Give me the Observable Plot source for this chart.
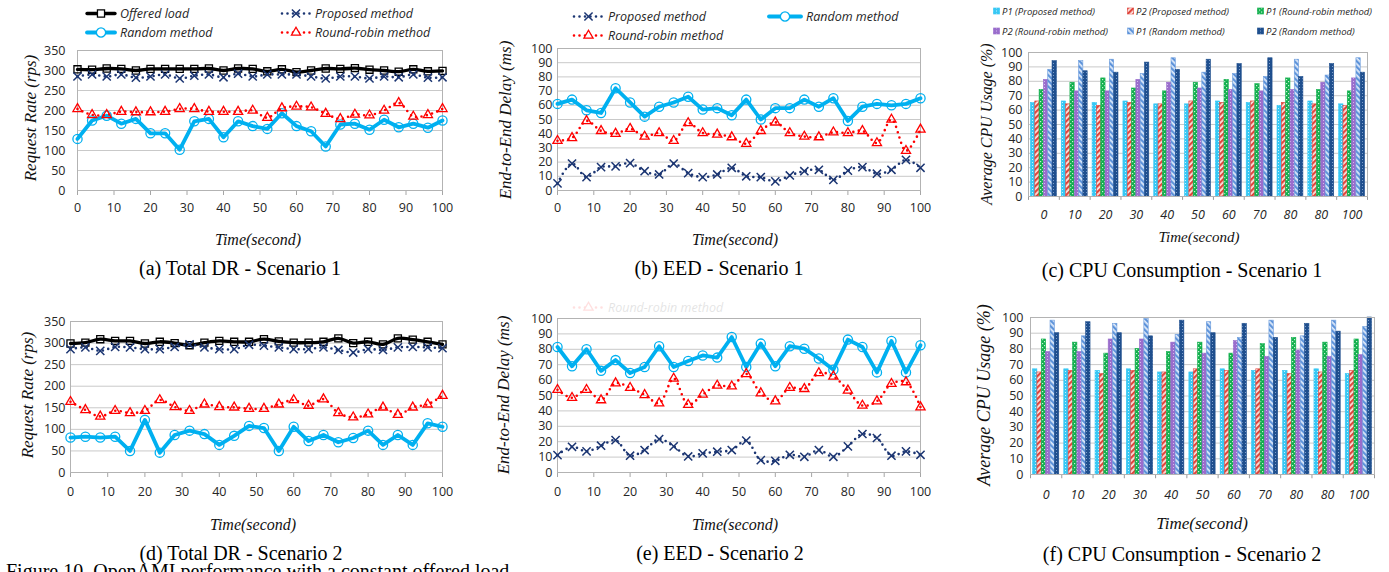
<!DOCTYPE html>
<html><head><meta charset="utf-8">
<script src="https://cdn.jsdelivr.net/npm/d3@7"></script>
<script src="https://cdn.jsdelivr.net/npm/@observablehq/plot@0.6"></script>
<style>
html,body{margin:0;padding:0;background:#fff;}
#root{position:relative;width:1389px;height:572px;overflow:hidden;background:#fff;}
.t{position:absolute;white-space:nowrap;line-height:1;}
.chartx text{fill:#262626;}
.cpu text{fill:#262626;font-style:italic;}
.cpu [aria-label^="y-axis"] text{font-style:normal;}
.leg{position:absolute;display:flex;align-items:center;white-space:nowrap;transform:translateY(-50%);font-family:"Open Sans";font-style:italic;color:#262626;}
</style></head><body><div id="root"></div>
<script>
// ---------- data ----------
const times = [0,4,8,12,16,20,24,28,32,36,40,44,48,52,56,60,64,68,72,76,80,84,88,92,96,100];
const xTicks = [0,10,20,30,40,50,60,70,80,90,100];
const rateTicks = [0,50,100,150,200,250,300,350];
const pctTicks = [0,10,20,30,40,50,60,70,80,90,100];
const cpuLabels = ["0","10","20","30","40","50","60","70","80","80","100"];

// (a) Total DR - Scenario 1
const a_offered = [303,302,305,304,300,304,304,304,304,305,300,305,304,298,303,296,300,305,304,306,302,300,297,303,298,299];
const a_proposed = [285,290,285,290,282,285,290,280,287,290,283,292,285,290,290,290,285,280,285,285,280,285,283,290,282,283];
const a_random = [129,175,187,167,179,143,143,102,173,179,133,173,161,154,193,161,148,110,165,167,152,177,158,167,157,175];
const a_roundrobin = [204,189,189,197,196,196,197,204,204,197,197,197,200,182,206,210,208,192,179,190,188,200,219,185,189,204];

// (b) EED - Scenario 1
const b_proposed = [5,19,9.4,16.5,17,19.3,13.6,11.3,19,12.2,9.4,11.3,16,10,9.4,6.4,10.6,13.6,14.6,7.5,14,16.5,11.8,14.6,21.6,16];
const b_random = [61,64,56.5,54.6,72,62,52,59,62,66,57,58,53,64,50,58,58,64,59,65,49,59,61,60,61,65];
const b_roundrobin = [35,37,49,42,40,43.5,38,40.5,35,47.5,40.5,39.5,37.6,33,42,48,40.5,38,37.6,41,40.5,42,33.4,50,28,43];

// (d) Total DR - Scenario 2
const d_offered = [299,301,309,305,305,299,303,300,295,301,305,303,303,309,304,301,301,303,311,300,303,297,311,308,303,297];
const d_proposed = [286,290,282,291,290,286,286,291,297,290,286,286,296,294,290,286,286,290,284,278,286,284,290,291,290,288];
const d_random = [81,83,81,83,50,122,46,87,97,89,64,85,108,103,50,106,73,87,70,80,97,64,87,64,114,106];
const d_roundrobin = [164,145,130,143,138,143,168,152,143,158,152,151,148,148,158,168,155,170,138,128,135,151,134,151,158,178];

// (e) EED - Scenario 2
const e_proposed = [11.3,16.7,13.7,17.4,21,10.9,14.6,21.7,17,10.4,12.4,13.5,14.6,20.7,8,7.6,11.5,10.2,14.6,10.2,17,25,22.4,10.9,13.7,11.5];
const e_random = [81.5,69,80,66,73,64.6,68.5,82,68.5,72.4,76,74.6,88,68.5,83.7,69,82,80.4,74,66.7,86.3,81.5,65,85.4,65,82.6];
const e_roundrobin = [53.7,48.5,53.7,47,58,55,50.4,45,61,44,50.6,56.5,56,64,51.5,46.3,55,54.3,64.6,62.4,53.3,43.5,46.3,57.6,58.7,42.4];

// (c) CPU Consumption - Scenario 1
const c_p1_proposed = [65,66,65,66,64,64,66,65,63,66,64];
const c_p2_proposed = [66,64,63,65,64,66,65,66,65,64,63];
const c_p1_roundrobin = [74,79,82,75,73,79,81,78,82,74,73];
const c_p2_roundrobin = [81,73,73,81,79,75,74,73,74,79,82];
const c_p1_random = [88,94,95,85,96,86,85,83,95,84,96];
const c_p2_random = [94,87,86,93,88,95,92,96,83,92,86];

// (f) CPU Consumption - Scenario 2
const f_p1_proposed = [67,67,66,67,65,65,67,66,66,67,64];
const f_p2_proposed = [65,66,64,66,65,67,66,67,64,65,66];
const f_p1_roundrobin = [86,84,77,80,78,84,77,83,87,84,86];
const f_p2_roundrobin = [78,78,86,86,84,77,85,75,79,75,76];
const f_p1_random = [98,88,96,99,89,97,87,98,88,98,94];
const f_p2_random = [90,97,90,88,98,90,96,87,96,91,100];

// ---------- styles ----------
const S = {
  offered: {name:"Offered load", color:"#000000", sw:3.3, dash:null, curve:"catmull-rom", symbol:"square", r:4},
  proposed: {name:"Proposed method", color:"#1b3572", sw:2.6, dash:"0 5.5", curve:"catmull-rom", symbol:"times", r:3.8},
  random: {name:"Random method", color:"#00b0f0", sw:3.8, dash:null, curve:"linear", symbol:"circle", r:4.6},
  roundrobin: {name:"Round-robin method", color:"#ff0000", sw:2.6, dash:"0 5.5", curve:"catmull-rom", symbol:"triangle", r:3.4}
};
const barSeries = [
  {name:"P1 (Proposed method)", pat:"pP1P", base:"#33c6f4"},
  {name:"P2 (Proposed method)", pat:"pP2P", base:"#e0453c"},
  {name:"P1 (Round-robin method)", pat:"pP1RR", base:"#10b04c"},
  {name:"P2 (Round-robin method)", pat:"pP2RR", base:"#9a6dcc"},
  {name:"P1 (Random method)", pat:"pP1R", base:"#6a9bdc"},
  {name:"P2 (Random method)", pat:"pP2R", base:"#1f4f8e"}
];

const root = document.getElementById("root");

// pattern defs
root.insertAdjacentHTML("beforeend", `<svg width="0" height="0" style="position:absolute"><defs>
<pattern id="pP1P" width="3" height="3" patternUnits="userSpaceOnUse"><rect width="3" height="3" fill="#38c8f4"/><rect width="1" height="1" fill="#c4f0fd"/></pattern>
<pattern id="pP2P" width="4" height="4" patternUnits="userSpaceOnUse" patternTransform="rotate(45)"><rect width="4" height="4" fill="#fde6e3"/><rect width="2.2" height="4" fill="#e0453c"/></pattern>
<pattern id="pP1RR" width="4" height="4" patternUnits="userSpaceOnUse"><rect width="4" height="4" fill="#12b04e"/><rect width="1.2" height="1.2" fill="#c9f0d5"/><rect x="2" y="2" width="1.2" height="1.2" fill="#c9f0d5"/></pattern>
<pattern id="pP2RR" width="3" height="3" patternUnits="userSpaceOnUse"><rect width="3" height="3" fill="#9a6dcc"/><rect width="1" height="1" fill="#d2bcec"/></pattern>
<pattern id="pP1R" width="4" height="4" patternUnits="userSpaceOnUse" patternTransform="rotate(-45)"><rect width="4" height="4" fill="#dde9f9"/><rect width="2.2" height="4" fill="#5d93da"/></pattern>
<pattern id="pP2R" width="3" height="3" patternUnits="userSpaceOnUse"><rect width="3" height="3" fill="#1f4f8e"/><rect width="1" height="1" fill="#7f9fcb"/></pattern>
</defs></svg>`);

function addText(str, cx, cy, css, rotate) {
  const d = document.createElement("div");
  d.className = "t";
  d.textContent = str;
  Object.assign(d.style, css);
  d.style.left = cx + "px";
  d.style.top = cy + "px";
  d.style.transform = "translate(-50%,-50%)" + (rotate ? " rotate(-90deg)" : "");
  root.appendChild(d);
}
function placeSvg(svg, left, top) {
  const d = document.createElement("div");
  d.style.position = "absolute";
  d.style.left = left + "px";
  d.style.top = top + "px";
  svg.style.overflow = "visible";
  d.appendChild(svg);
  root.appendChild(d);
}

function symbolPath(sym, r) {
  const map = {square:d3.symbolSquare, times:d3.symbolTimes, circle:d3.symbolCircle, triangle:d3.symbolTriangle};
  return d3.symbol(map[sym], Math.PI * r * r)();
}
function legendLine(s, x, yc, w, fontSize) {
  const d = document.createElement("div");
  d.className = "leg";
  d.style.left = x + "px";
  d.style.top = yc + "px";
  d.style.fontSize = fontSize + "px";
  const svg = d3.create("svg").attr("width", w).attr("height", 14).style("overflow", "visible").style("margin-right", "3px");
  svg.append("line").attr("x1", 2).attr("x2", w - 2).attr("y1", 7).attr("y2", 7)
    .attr("stroke", s.color).attr("stroke-width", s.sw).attr("stroke-linecap", "round")
    .attr("stroke-dasharray", s.dash);
  svg.append("path").attr("d", symbolPath(s.symbol, s.r)).attr("transform", `translate(${w/2},7)`)
    .attr("fill", s.symbol === "times" ? "none" : "#fff").attr("stroke", s.color).attr("stroke-width", s.symbol === "times" ? 1.5 : 1.3);
  d.appendChild(svg.node());
  d.appendChild(document.createTextNode(s.name));
  root.appendChild(d);
  return d;
}
function legendBox(b, x, yc) {
  const d = document.createElement("div");
  d.className = "leg";
  d.style.left = x + "px";
  d.style.top = yc + "px";
  d.style.fontSize = "9.5px";
  d.innerHTML = `<svg width="7" height="7" style="margin-right:2px"><rect x="0.3" y="0.3" width="6.4" height="6.4" fill="url(#${b.pat})" stroke="${b.base}" stroke-width="0.6"/></svg>`;
  d.appendChild(document.createTextNode(b.name));
  root.appendChild(d);
}

function linePanel(o) {
  const marks = [
    Plot.ruleY(o.yTicks, {stroke:"#c9c9c9", strokeWidth:1}),
    Plot.frame({stroke:"#b3b3b3"})
  ];
  for (const [s, values] of o.series) {
    const data = times.map((t, i) => ({t, v: values[i]}));
    marks.push(Plot.line(data, {x:"t", y:"v", stroke:s.color, strokeWidth:s.sw, strokeDasharray:s.dash, strokeLinecap:"round", curve:s.curve}));
    marks.push(Plot.dot(data, {x:"t", y:"v", symbol:s.symbol, r:s.r, stroke:s.color, strokeWidth:s.symbol === "times" ? 1.5 : 1.3, fill:"none"}));
  }
  const svg = Plot.plot({
    className: "chartx",
    width: o.width, height: o.height,
    marginLeft: o.mL, marginRight: o.mR, marginTop: o.mT, marginBottom: o.mB,
    style: {fontFamily:"Open Sans", fontSize:"12.5px", color:"#a6a6a6", background:"transparent", overflow:"visible"},
    x: {domain:[0,100], ticks:xTicks, tickSize:5, tickPadding:o.xPad, label:null},
    y: {domain:o.yDomain, ticks:o.yTicks, tickSize:0, tickPadding:o.yPad, label:null},
    marks
  });
  placeSvg(svg, o.left, o.top);
}

function barPanel(o) {
  const boundaries = cpuLabels.map((_, i) => i - 0.5).concat([cpuLabels.length - 0.5]);
  const marks = [
    Plot.ruleY(pctTicks, {stroke:"#c9c9c9", strokeWidth:1}),
    Plot.ruleX(boundaries, {y1:0, y2:-2.7, stroke:"#9a9a9a"})
  ];
  o.series.forEach((values, k) => {
    const b = barSeries[k];
    const data = cpuLabels.map((lab, i) => ({g:i, v:values[i]}));
    marks.push(Plot.rect(data, {
      x1: d => d.g - 0.42 + k * 0.14,
      x2: d => d.g - 0.42 + (k + 1) * 0.14,
      y1: 0, y2: "v",
      fill: `url(#${b.pat})`, stroke: b.base, strokeWidth: 0.6
    }));
  });
  marks.push(Plot.frame({stroke:"#b3b3b3"}));
  const svg = Plot.plot({
    className: "cpu",
    width: o.width, height: o.height,
    marginLeft: o.mL, marginRight: o.mR, marginTop: o.mT, marginBottom: o.mB,
    style: {fontFamily:"Open Sans", fontSize:"12.5px", color:"#a6a6a6", background:"transparent", overflow:"visible"},
    x: {domain:[-0.5, cpuLabels.length - 0.5], ticks:cpuLabels.map((_, i) => i), tickFormat: i => cpuLabels[i], tickSize:0, tickPadding:o.xPad, label:null},
    y: {domain:[0,100], ticks:pctTicks, tickSize:0, tickPadding:o.yPad, label:null},
    marks
  });
  placeSvg(svg, o.left, o.top);
}

const serifIt = {fontFamily:"Liberation Serif", fontStyle:"italic", color:"#111"};
const capStyle = {fontFamily:"Liberation Serif", fontSize:"20px", color:"#000"};

// ---------- (a) ----------
linePanel({left:0, top:40, width:460, height:185, mL:77, mR:18, mT:10, mB:35, yDomain:[0,350], yTicks:rateTicks, yPad:12, xPad:8,
  series:[[S.offered, a_offered],[S.proposed, a_proposed],[S.random, a_random],[S.roundrobin, a_roundrobin]]});
legendLine(S.offered, 85, 13, 32, 12.5);
legendLine(S.proposed, 280, 13, 32, 12.5);
legendLine(S.random, 85, 32, 32, 12.5);
legendLine(S.roundrobin, 280, 32, 32, 12.5);
addText("Request Rate (rps)", 30, 118, {...serifIt, fontSize:"17px"}, true);
addText("Time(second)", 258, 240, {...serifIt, fontSize:"16px"});
addText("(a) Total DR - Scenario 1", 240, 268, capStyle);

// ---------- (b) ----------
linePanel({left:490, top:38, width:450, height:187, mL:67, mR:20, mT:10, mB:35, yDomain:[0,100], yTicks:pctTicks, yPad:5, xPad:8,
  series:[[S.proposed, b_proposed],[S.random, b_random],[S.roundrobin, b_roundrobin]]});
legendLine(S.proposed, 572, 16, 33, 12.5);
legendLine(S.random, 767, 16, 36, 12.5);
legendLine(S.roundrobin, 572, 35, 33, 12.5);
addText("End-to-End Delay (ms)", 505, 120, {...serifIt, fontSize:"17px"}, true);
addText("Time(second)", 735, 240, {...serifIt, fontSize:"16px"});
addText("(b) EED - Scenario 1", 719, 268, capStyle);

// ---------- (c) ----------
barPanel({left:960, top:45, width:429, height:185, mL:68, mR:22, mT:7, mB:34, yPad:6, xPad:14,
  series:[c_p1_proposed, c_p2_proposed, c_p1_roundrobin, c_p2_roundrobin, c_p1_random, c_p2_random]});
[[0,993,11],[1,1127,11],[2,1257,11],[3,993,31],[4,1127,31],[5,1257,31]].forEach(([k,x,y]) => legendBox(barSeries[k], x, y));
addText("Average CPU Usage (%)", 987, 124, {...serifIt, fontSize:"16px"}, true);
addText("Time(second)", 1199, 237, {...serifIt, fontSize:"15px"});
addText("(c) CPU Consumption - Scenario 1", 1182, 270, capStyle);

// ---------- (d) ----------
linePanel({left:0, top:311, width:460, height:196, mL:70, mR:18, mT:10, mB:35, yDomain:[0,350], yTicks:rateTicks, yPad:5, xPad:10,
  series:[[S.offered, d_offered],[S.proposed, d_proposed],[S.random, d_random],[S.roundrobin, d_roundrobin]]});
addText("Request Rate (rps)", 27, 395, {...serifIt, fontSize:"17px"}, true);
addText("Time(second)", 253, 525, {...serifIt, fontSize:"16px"});
addText("(d) Total DR - Scenario 2", 241, 553, capStyle);

// ---------- (e) ----------
linePanel({left:490, top:308, width:450, height:199, mL:67, mR:20, mT:10, mB:35, yDomain:[0,100], yTicks:pctTicks, yPad:5, xPad:10,
  series:[[S.proposed, e_proposed],[S.random, e_random],[S.roundrobin, e_roundrobin]]});
const ghost = legendLine(S.roundrobin, 572, 307, 33, 12.5);
ghost.style.opacity = "0.12";
addText("End-to-End Delay (ms)", 503, 395, {...serifIt, fontSize:"17px"}, true);
addText("Time(second)", 735, 525, {...serifIt, fontSize:"16px"});
addText("(e) EED - Scenario 2", 720, 553, capStyle);

// ---------- (f) ----------
barPanel({left:960, top:305, width:429, height:200, mL:70, mR:15, mT:12, mB:31, yPad:7, xPad:16,
  series:[f_p1_proposed, f_p2_proposed, f_p1_roundrobin, f_p2_roundrobin, f_p1_random, f_p2_random]});
addText("Average CPU Usage (%)", 984, 395, {...serifIt, fontSize:"18px"}, true);
addText("Time(second)", 1202, 523, {...serifIt, fontSize:"17px"});
addText("(f) CPU Consumption - Scenario 2", 1182, 554, capStyle);

// figure caption (cut by the page bottom)
const fc = document.createElement("div");
fc.className = "t";
fc.textContent = "Figure 10.  OpenAMI performance with a constant offered load.";
Object.assign(fc.style, capStyle, {left:"6px", top:"561px"});
root.appendChild(fc);
</script></body></html>
